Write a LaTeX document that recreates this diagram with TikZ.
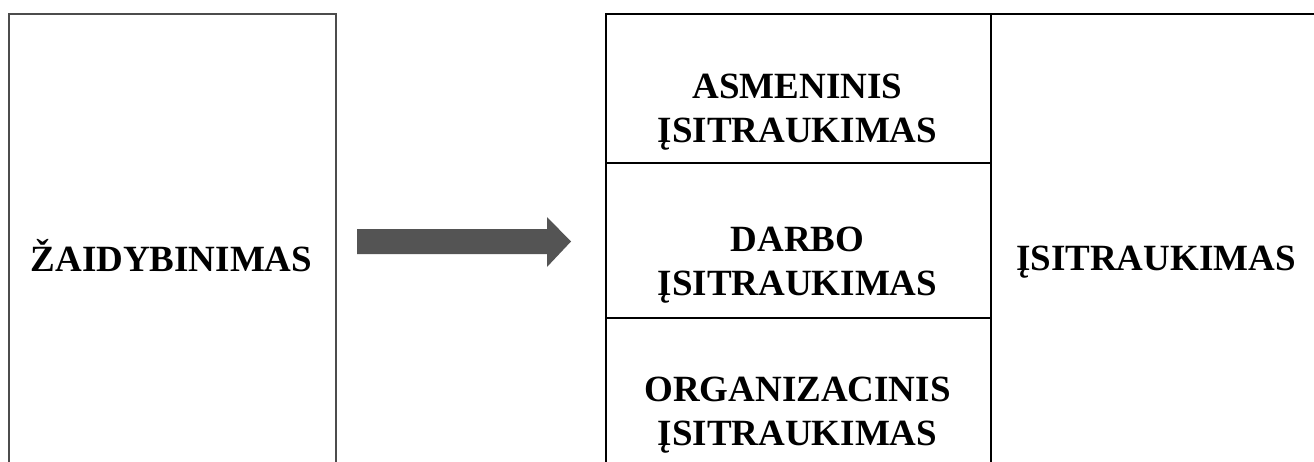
\documentclass[tikz,border=0pt]{standalone}
\usepackage{fontspec}
\setmainfont{Liberation Serif}
\begin{document}
\begin{tikzpicture}[x=1pt,y=-1pt,
  leftbox/.style={draw=black!70, line width=2.2pt, fill=none},
  cell/.style={draw=black, line width=1.5pt},
  lbl/.style={font=\bfseries\fontsize{37}{43.5}\selectfont, align=center, inner sep=0pt},
  blockarrow/.style={fill=black!67, draw=none}]
\useasboundingbox (0,0) rectangle (1314,461);
\clip (0,0) rectangle (1314,461);
\fill[white] (0,0) rectangle (1314,461);

% left column
\node[leftbox, minimum width=327pt, minimum height=487pt, anchor=north west, inner sep=0pt] (gam) at (8,13) {};
\node[lbl, anchor=base] (gamT) at (171.5,271) {ŽAIDYBINIMAS};

% block arrow between the columns
\draw[blockarrow] (357,229) -- (547,229) -- (547,217) -- (571,241.5)
  -- (547,267) -- (547,254) -- (357,254) -- cycle;

% right table: three stacked cells and the result column
\node[cell, minimum width=385pt, minimum height=149pt, anchor=north west, inner sep=0pt] (asm) at (605,13) {};
\node[cell, minimum width=385pt, minimum height=155pt, anchor=north west, inner sep=0pt] (darb) at (605,162) {};
\node[cell, minimum width=385pt, minimum height=190pt, anchor=north west, inner sep=0pt] (org) at (605,317) {};
\node[cell, minimum width=332pt, minimum height=494pt, anchor=north west, inner sep=0pt] (isi) at (990,13) {};

% two-line labels: the base anchor sits on the last line
\node[lbl, anchor=base] (asmT) at (797.5,142) {ASMENINIS\\ĮSITRAUKIMAS};
\node[lbl, anchor=base] (darbT) at (797.5,295) {DARBO\\ĮSITRAUKIMAS};
\node[lbl, anchor=base] (orgT) at (797.5,445) {ORGANIZACINIS\\ĮSITRAUKIMAS};
\node[lbl, anchor=base] (isiT) at (1156,270) {ĮSITRAUKIMAS};
\end{tikzpicture}
\end{document}
